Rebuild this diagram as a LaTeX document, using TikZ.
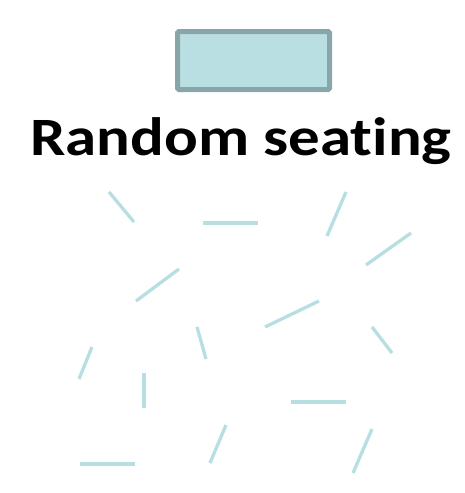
\documentclass[tikz,border=0pt]{standalone}
\usepackage{fontspec}
\setmainfont{Carlito}[Ligatures=NoCommon]
\definecolor{seat}{RGB}{183,223,226}
\definecolor{boxfill}{RGB}{186,223,227}
\definecolor{boxedge}{RGB}{136,165,168}
\begin{document}
\begin{tikzpicture}[x=1pt,y=-1pt,
  seatline/.style={draw=seat,line width=3.3pt,line cap=butt},
  frontbox/.style={draw=boxedge,fill=boxfill,line width=5pt,rounded corners=1.5pt}]
\useasboundingbox (0,0) rectangle (465,493);
\draw[frontbox] (177.5,31.5) rectangle (329.5,89.5);
\node[anchor=base,inner sep=0pt,xscale=1.165,font=\fontsize{54}{60}\selectfont\bfseries] (title) at (241,155) {Random seating};
\draw[seatline] (109,192) -- (134,222);
\draw[seatline] (203,223) -- (258,223);
\draw[seatline] (136,301) -- (179,269);
\draw[seatline] (346,192) -- (327,236);
\draw[seatline] (411,233) -- (366,265);
\draw[seatline] (319,301) -- (265,327);
\draw[seatline] (92,347) -- (79,379);
\draw[seatline] (197,327) -- (206,359);
\draw[seatline] (144,373) -- (144,408);
\draw[seatline] (226,425) -- (210,463);
\draw[seatline] (80,464) -- (135,464);
\draw[seatline] (372,327) -- (392,353);
\draw[seatline] (291,402) -- (346,402);
\draw[seatline] (372,429) -- (353,473);
\end{tikzpicture}
\end{document}
